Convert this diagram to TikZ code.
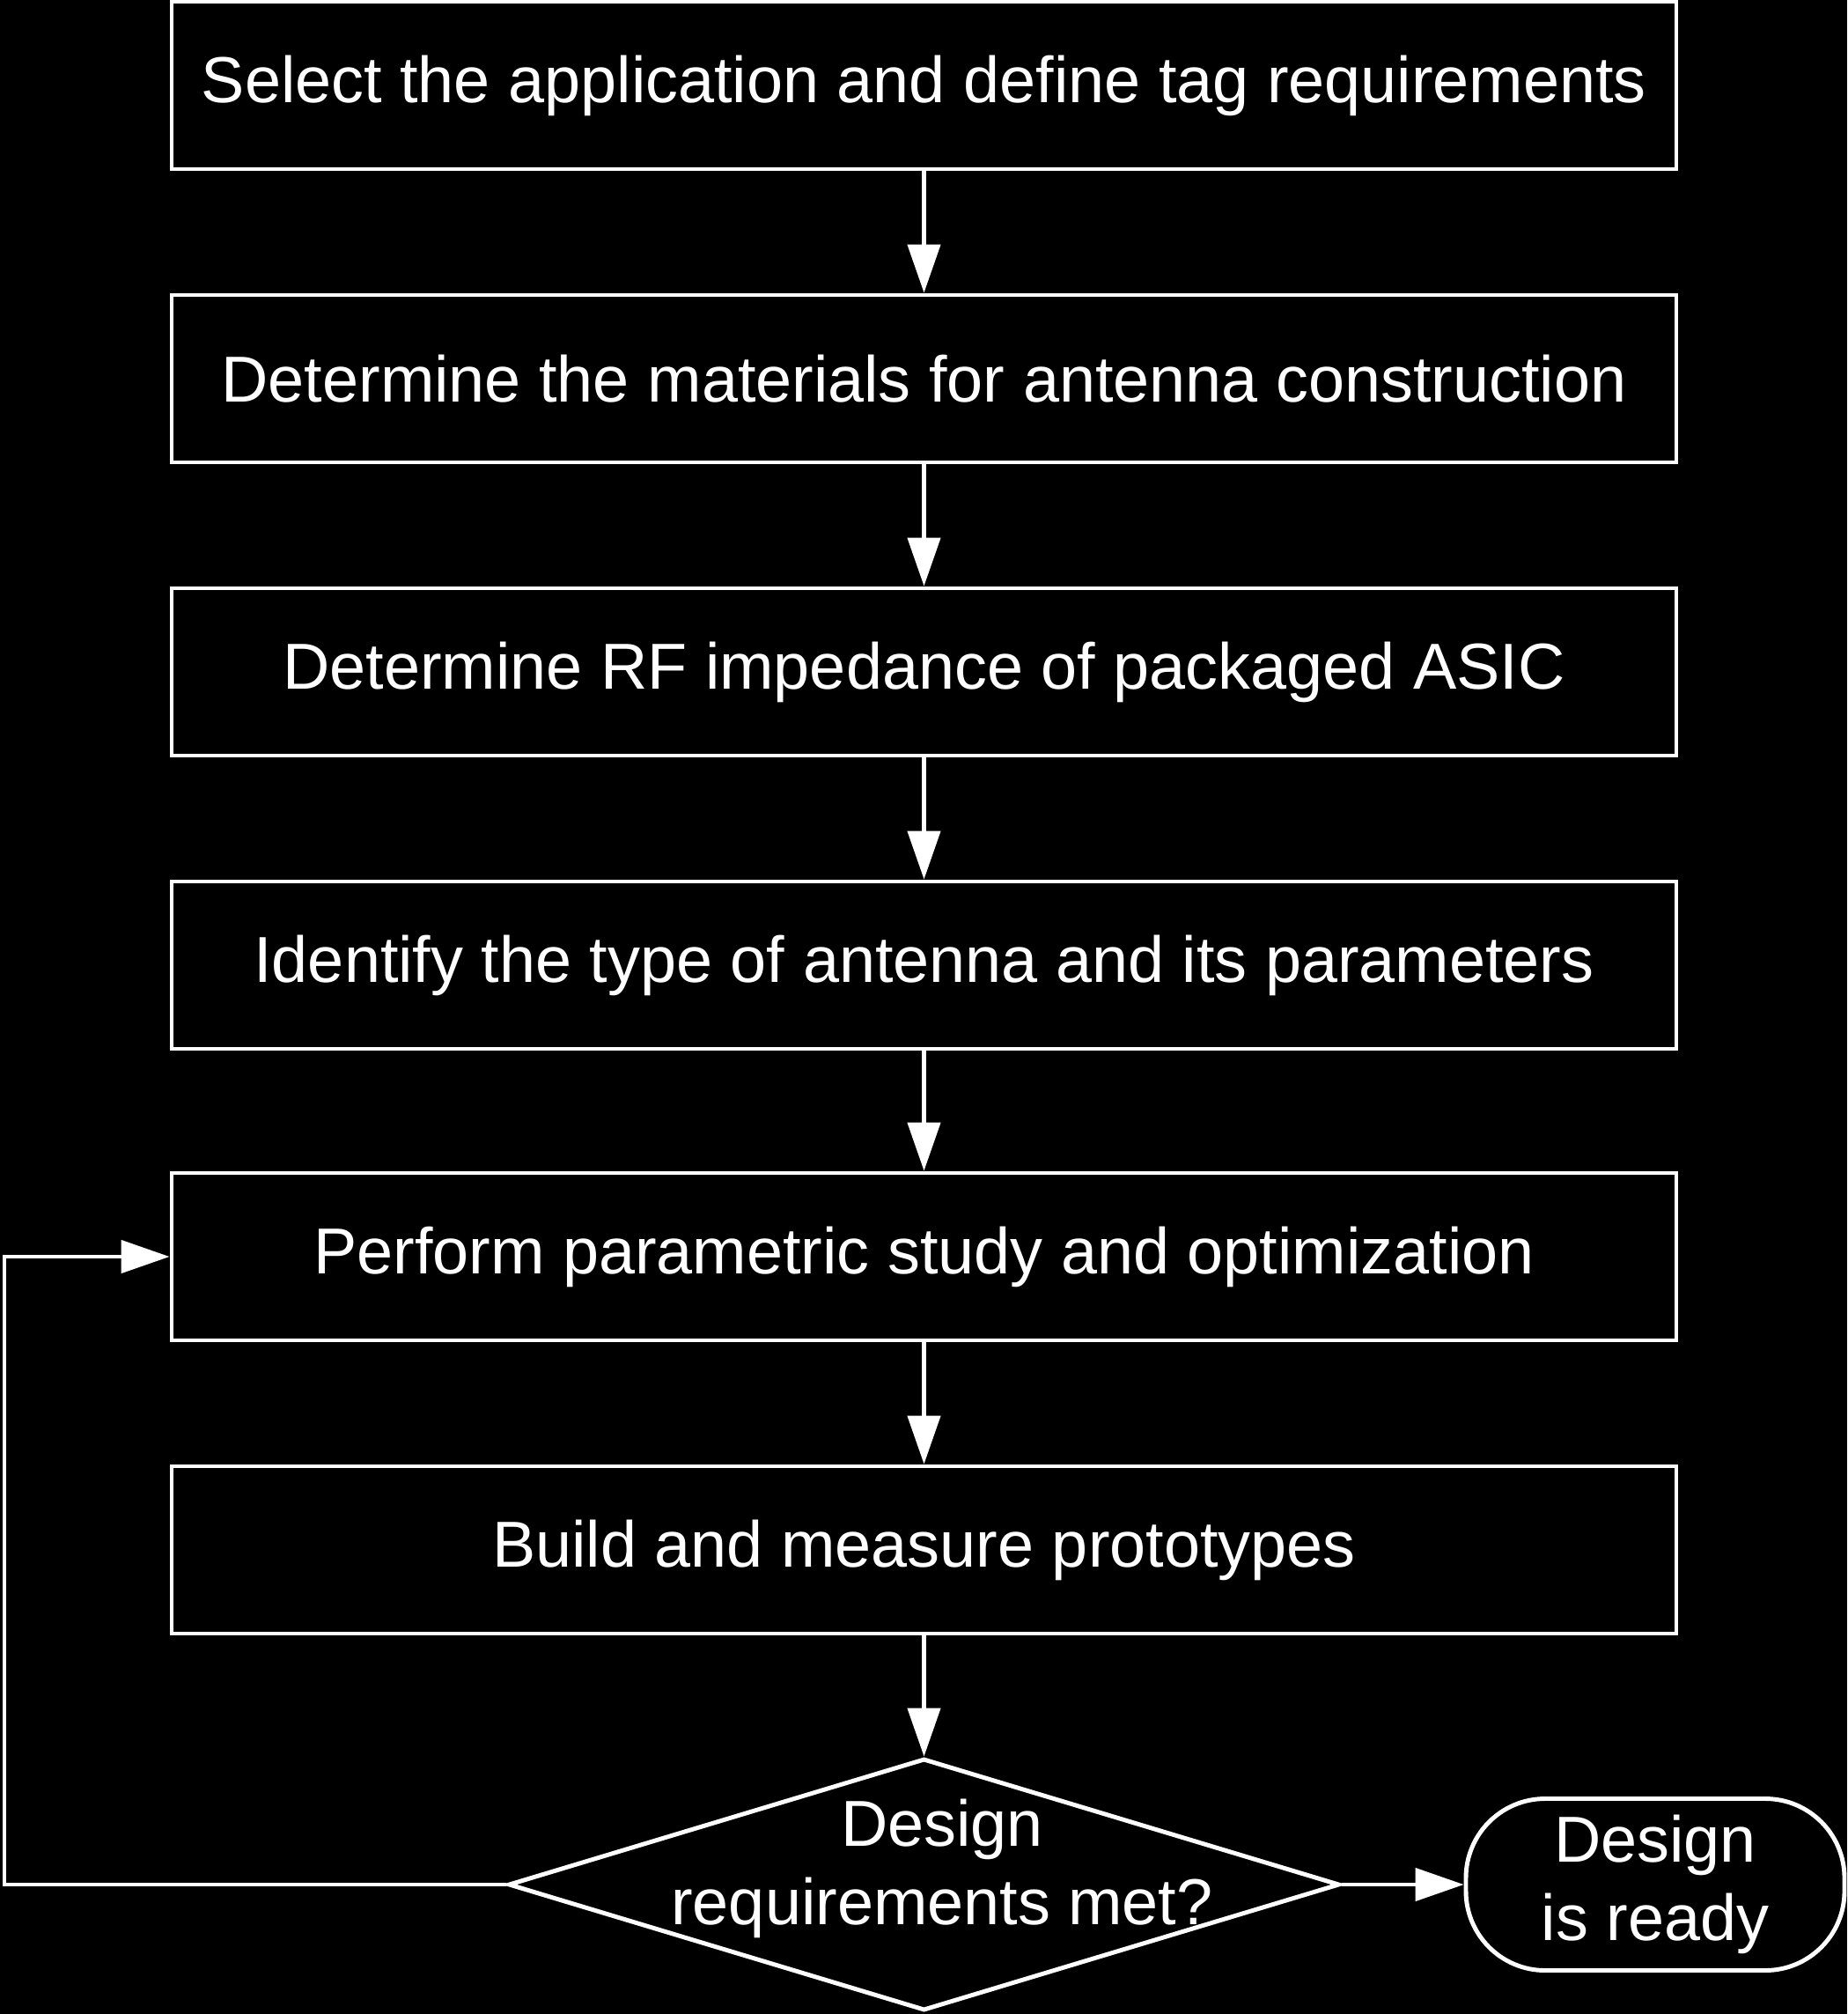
\documentclass[tikz,border=0pt]{standalone}
\usepackage{fontspec}
\setmainfont{Liberation Sans}
\usetikzlibrary{arrows.meta,shapes.geometric}
\begin{document}
\begin{tikzpicture}[
  every node/.style={text=white, font=\fontsize{21pt}{25.5pt}\selectfont},
  stepbox/.style={draw=white, line width=1.4pt, minimum width=17.09cm, minimum height=1.90cm, inner sep=0pt, align=center},
  flow/.style={draw=white, line width=1.3pt, -{Triangle[length=5.5mm, width=3.7mm]}},
  decbox/.style={diamond, draw=white, line width=1.4pt, minimum width=9.44cm, minimum height=2.86cm, inner sep=0pt},
  termbox/.style={draw=white, line width=1.4pt, rounded corners=0.9cm, minimum width=4.30cm, minimum height=1.95cm, inner sep=0pt, align=center}
]
\fill[black] (0,0) rectangle (20.98,-22.87);
\useasboundingbox (0,0) rectangle (20.98,-22.87);
\node[stepbox] (b1) at (10.495,-0.97) {Select the application and define tag requirements};
\node[stepbox] (b2) at (10.495,-4.30) {Determine the materials for antenna construction};
\node[stepbox] (b3) at (10.495,-7.63) {Determine RF impedance of packaged ASIC};
\node[stepbox] (b4) at (10.495,-10.96) {Identify the type of antenna and its parameters};
\node[stepbox] (b5) at (10.495,-14.27) {Perform parametric study and optimization};
\node[stepbox] (b6) at (10.495,-17.60) {Build and measure prototypes};
\node[decbox] (dec) at (10.495,-21.40) {};
\node[align=center] (dectext) at (10.70,-21.22) {Design\\requirements met?};
\node[termbox] (term) at (18.80,-21.40) {Design\\is ready};
\coordinate (loopx) at (0.05,-21.40);
\draw[flow] (b1.south) -- (b2.north);
\draw[flow] (b2.south) -- (b3.north);
\draw[flow] (b3.south) -- (b4.north);
\draw[flow] (b4.south) -- (b5.north);
\draw[flow] (b5.south) -- (b6.north);
\draw[flow] (b6.south) -- (dec.north);
\draw[flow] (dec.east) -- (term.west);
\draw[flow] (dec.west) -- (loopx) |- (b5.west);
\end{tikzpicture}
\end{document}
